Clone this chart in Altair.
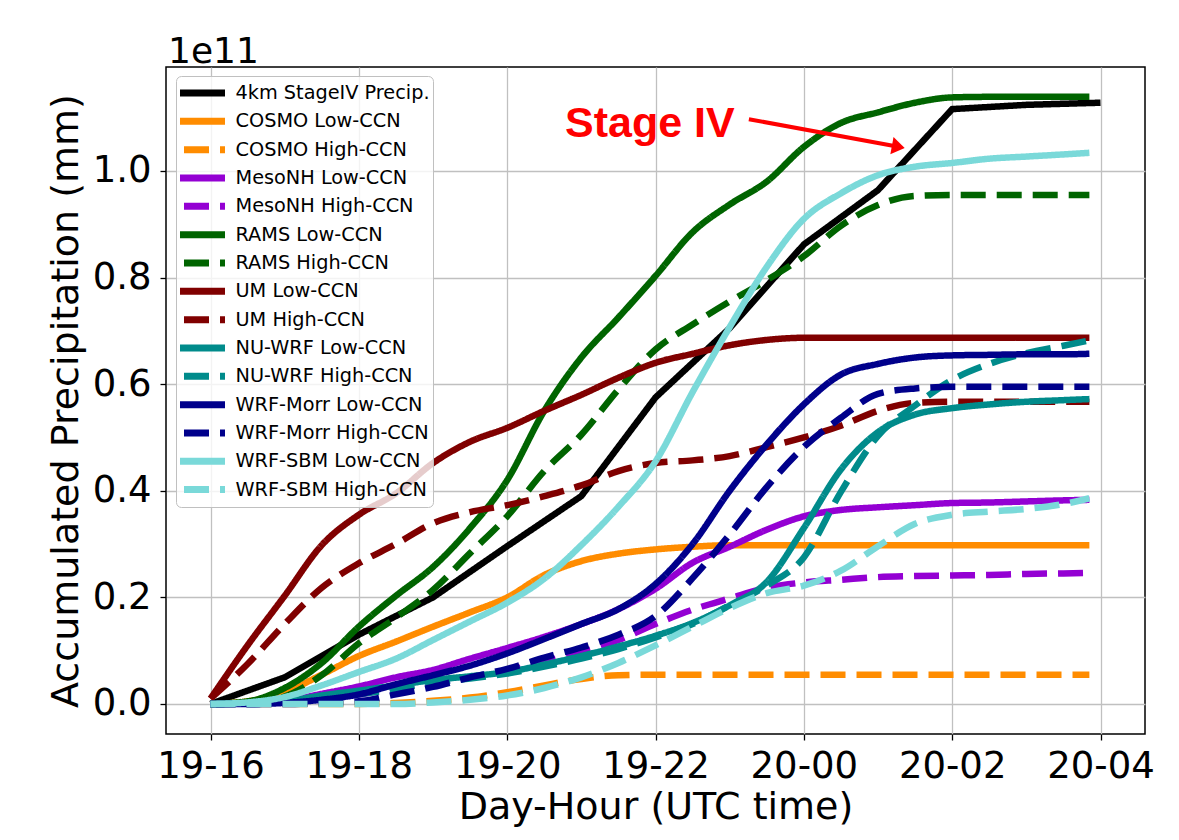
import altair as alt
import pandas as pd

# ---------------- data (values in units of 1e11 mm) ----------------
hours_model = [0, 0.5, 1, 1.5, 2, 2.5, 3, 3.5, 4, 4.5, 5, 5.5, 6, 6.5, 7, 7.5,
               8, 8.5, 9, 9.5, 10, 10.5, 11, 11.5, 11.85]
hours_stage4 = [0, 1, 2, 3, 4, 5, 6, 7, 8, 9, 10, 11, 12]

stage4 = [0, 0.05, 0.13, 0.20, 0.296, 0.39, 0.575, 0.705, 0.862, 0.964, 1.116, 1.124, 1.128]

cosmo_low = [0, 0.005, 0.022, 0.055, 0.09, 0.117, 0.145, 0.172, 0.2, 0.242, 0.268, 0.282, 0.29,
             0.295, 0.298, 0.298, 0.298, 0.298, 0.298, 0.298, 0.298, 0.298, 0.298, 0.298, 0.298]
cosmo_high = [0, 0, 0, 0, 0, 0.002, 0.006, 0.012, 0.022, 0.035, 0.047, 0.054, 0.055,
              0.055, 0.055, 0.055, 0.055, 0.055, 0.055, 0.055, 0.055, 0.055, 0.055, 0.055, 0.055]
mesonh_low = [0, 0.001, 0.006, 0.019, 0.033, 0.05, 0.064, 0.085, 0.105, 0.126, 0.15, 0.178, 0.216,
              0.265, 0.295, 0.327, 0.352, 0.364, 0.369, 0.373, 0.377, 0.378, 0.38, 0.382, 0.383]
mesonh_high = [0, 0, 0.002, 0.008, 0.018, 0.03, 0.04, 0.05, 0.062, 0.08, 0.097, 0.12, 0.15,
               0.177, 0.198, 0.218, 0.228, 0.233, 0.238, 0.24, 0.241, 0.242, 0.244, 0.245, 0.246]
rams_low = [0, 0.005, 0.03, 0.077, 0.145, 0.203, 0.257, 0.33, 0.42, 0.55, 0.65, 0.725, 0.803,
            0.885, 0.937, 0.98, 1.045, 1.09, 1.11, 1.128, 1.138, 1.139, 1.139, 1.139, 1.139]
rams_high = [0, 0.002, 0.014, 0.054, 0.114, 0.162, 0.214, 0.283, 0.352, 0.437, 0.505, 0.59, 0.665,
             0.712, 0.755, 0.795, 0.84, 0.897, 0.936, 0.953, 0.955, 0.955, 0.955, 0.955, 0.955]
um_low = [0.01, 0.11, 0.203, 0.298, 0.355, 0.395, 0.452, 0.492, 0.518, 0.55, 0.58, 0.612, 0.64,
          0.657, 0.673, 0.683, 0.687, 0.687, 0.687, 0.687, 0.687, 0.687, 0.687, 0.687, 0.687]
um_high = [0.01, 0.075, 0.15, 0.218, 0.264, 0.30, 0.339, 0.36, 0.373, 0.39, 0.41, 0.437, 0.452,
           0.457, 0.465, 0.482, 0.50, 0.522, 0.55, 0.565, 0.567, 0.567, 0.567, 0.567, 0.567]
nuwrf_low = [0, 0.001, 0.005, 0.016, 0.025, 0.035, 0.045, 0.052, 0.06, 0.074, 0.09, 0.108, 0.128,
             0.152, 0.185, 0.229, 0.33, 0.44, 0.51, 0.543, 0.555, 0.562, 0.567, 0.57, 0.572]
nuwrf_high = [0, 0, 0.003, 0.01, 0.018, 0.028, 0.04, 0.048, 0.057, 0.07, 0.085, 0.103, 0.125,
              0.15, 0.185, 0.222, 0.275, 0.398, 0.503, 0.56, 0.608, 0.638, 0.658, 0.672, 0.682]
morr_low = [0, 0, 0.002, 0.008, 0.018, 0.037, 0.054, 0.072, 0.095, 0.122, 0.15, 0.178, 0.225,
            0.30, 0.40, 0.487, 0.562, 0.618, 0.638, 0.65, 0.654, 0.655, 0.656, 0.656, 0.657]
morr_high = [0, 0, 0, 0.002, 0.005, 0.018, 0.032, 0.05, 0.066, 0.087, 0.106, 0.13, 0.165,
             0.236, 0.318, 0.407, 0.482, 0.537, 0.582, 0.592, 0.595, 0.595, 0.595, 0.595, 0.595]
sbm_low = [0, 0.003, 0.013, 0.035, 0.06, 0.085, 0.12, 0.155, 0.19, 0.235, 0.298, 0.37, 0.455,
           0.585, 0.707, 0.82, 0.91, 0.958, 0.992, 1.008, 1.015, 1.023, 1.027, 1.031, 1.034]
sbm_high = [0, 0, 0, 0, 0, 0, 0.003, 0.008, 0.016, 0.03, 0.05, 0.077, 0.11,
            0.145, 0.18, 0.208, 0.222, 0.25, 0.296, 0.338, 0.355, 0.361, 0.366, 0.375, 0.386]

series_names = [
    "4km StageIV Precip.", "COSMO Low-CCN", "COSMO High-CCN", "MesoNH Low-CCN",
    "MesoNH High-CCN", "RAMS Low-CCN", "RAMS High-CCN", "UM Low-CCN", "UM High-CCN",
    "NU-WRF Low-CCN", "NU-WRF High-CCN", "WRF-Morr Low-CCN", "WRF-Morr High-CCN",
    "WRF-SBM Low-CCN", "WRF-SBM High-CCN",
]
series_values = [stage4, cosmo_low, cosmo_high, mesonh_low, mesonh_high, rams_low, rams_high,
                 um_low, um_high, nuwrf_low, nuwrf_high, morr_low, morr_high, sbm_low, sbm_high]

x_tick_values = [0, 2, 4, 6, 8, 10, 12]
x_tick_labels = ["19-16", "19-18", "19-20", "19-22", "20-00", "20-02", "20-04"]
y_tick_values = [0.0, 0.2, 0.4, 0.6, 0.8, 1.0]

annot_text = "Stage IV"
annot_text_pos = [4.78, 1.064]
arrow_start = [7.259, 1.097]
arrow_head = [9.274, 1.0454]
offset_label = "1e11"

# ---------------- styles ----------------
series_colors = ["#000000", "#ff8c00", "#ff8c00", "#9400d3", "#9400d3", "#006400", "#006400",
                 "#800000", "#800000", "#008b8b", "#008b8b", "#00008b", "#00008b",
                 "#7ad9d9", "#7ad9d9"]
SOLID = [1, 0]
DASH = [25, 11]
series_dash = [SOLID] + [SOLID if i % 2 == 0 else DASH for i in range(14)]

rows = []
for name, vals in zip(series_names, series_values):
    hrs = hours_stage4 if name.startswith("4km") else hours_model
    for h, v in zip(hrs, vals):
        rows.append({"series": name, "hour": h, "value": v})
df = pd.DataFrame(rows)
df_obs = df[df["series"] == series_names[0]]
df_mod = df[df["series"] != series_names[0]]

FONT = "DejaVu Sans"
label_expr = "[" + ",".join("'%s'" % s for s in x_tick_labels) + "][round(datum.value/2)]"

xscale = alt.Scale(domain=[-0.6, 12.6], nice=False, zero=False)
yscale = alt.Scale(domain=[-0.0563, 1.195], nice=False, zero=False)
XTITLE = "Day-Hour (UTC time)"
YTITLE = "Accumulated Precipitation (mm)"

xaxis = alt.Axis(
    values=x_tick_values, labelExpr=label_expr, title=XTITLE,
    titleFont=FONT, titleFontSize=38, titleFontWeight="normal", titleColor="black",
    titleX=489.5, titleY=84, titleBaseline="alphabetic", titleAlign="center",
    labelFont=FONT, labelFontSize=37, labelColor="black", labelPadding=8,
    labelFlush=False, labelOverlap=False,
    tickSize=6, tickColor="black", tickWidth=1.3, domain=False,
    grid=True, gridColor="#c0c0c0", gridWidth=1.3)
yaxis = alt.Axis(
    values=y_tick_values, format=".1f", title=YTITLE,
    titleFont=FONT, titleFontSize=38, titleFontWeight="normal", titleColor="black",
    titleX=-89, titleY=333.5, titleAngle=-90, titleBaseline="alphabetic", titleAlign="center",
    labelFont=FONT, labelFontSize=37, labelColor="black", labelPadding=9,
    labelFlush=False, labelOverlap=False,
    tickSize=6, tickColor="black", tickWidth=1.3, domain=False,
    grid=True, gridColor="#c0c0c0", gridWidth=1.3)


def X(field="hour"):
    return alt.X(f"{field}:Q", scale=xscale, axis=xaxis, title=XTITLE)


def Y(field="value"):
    return alt.Y(f"{field}:Q", scale=yscale, axis=yaxis, title=YTITLE)


legend = alt.Legend(
    title=None, orient="none", legendX=10, legendY=9, direction="vertical",
    fillColor="rgba(255,255,255,0.8)", strokeColor="#c0c0c0", cornerRadius=5,
    padding=3, labelFont=FONT, labelFontSize=19.3, labelColor="black", labelLimit=400,
    labelOffset=7, symbolType="stroke", symbolStrokeWidth=7, symbolSize=2025,
    symbolOffset=-2.5, symbolDashOffset=32, clipHeight=28, rowPadding=0.33,
)

color_enc = alt.Color("series:N", scale=alt.Scale(domain=series_names, range=series_colors), legend=legend)
dash_enc = alt.StrokeDash("series:N", scale=alt.Scale(domain=series_names, range=series_dash), legend=legend)

obs_line = alt.Chart(df_obs).mark_line(strokeWidth=6.5, strokeCap="butt", strokeJoin="miter").encode(
    x=X(), y=Y(), color=color_enc, strokeDash=dash_enc)

mod_lines = alt.Chart(df_mod).mark_line(strokeWidth=6.5, strokeCap="butt", strokeJoin="round",
                                        interpolate="monotone").encode(
    x=X(), y=Y(), color=color_enc, strokeDash=dash_enc)

arrow_df = pd.DataFrame({"hour": [arrow_start[0]], "value": [arrow_start[1]],
                         "hour2": [arrow_head[0]], "value2": [arrow_head[1]]})
arrow = alt.Chart(arrow_df).mark_rule(color="#ff0000", strokeWidth=4).encode(
    x=X(), y=Y(), x2="hour2:Q", y2="value2:Q")

head_df = pd.DataFrame({"hour": [arrow_head[0]], "value": [arrow_head[1]]})
head = alt.Chart(head_df).mark_point(
    shape="M1,0L-1,-1.35L-1,1.35Z", size=169, angle=10.5, filled=True,
    fill="#ff0000", strokeWidth=0, opacity=1).encode(x=X(), y=Y())

txt_df = pd.DataFrame({"hour": [annot_text_pos[0]], "value": [annot_text_pos[1]], "t": [annot_text]})
stage_txt = alt.Chart(txt_df).mark_text(
    align="left", baseline="alphabetic", font="Liberation Sans", fontSize=43,
    fontWeight="bold", color="#ff0000").encode(x=X(), y=Y(), text="t:N")

off_df = pd.DataFrame({"t": [offset_label]})
off_txt = alt.Chart(off_df).mark_text(
    align="left", baseline="alphabetic", font=FONT, fontSize=36, color="black").encode(
    x=alt.value(2), y=alt.value(-4), text="t:N")

chart = alt.layer(obs_line, mod_lines, arrow, head, stage_txt, off_txt).properties(
    width=979, height=667,
    autosize=alt.AutoSizeParams(type="none"),
    padding={"left": 158, "top": 59, "right": 26, "bottom": 98},
    background="white",
).configure_view(stroke="black", strokeWidth=1.5)

chart.save("out.html", embed_options={"renderer": "svg", "actions": False})
